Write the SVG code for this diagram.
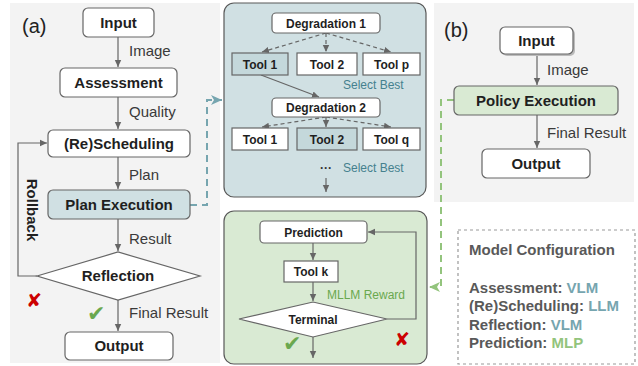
<svg xmlns="http://www.w3.org/2000/svg" width="638" height="366" viewBox="0 0 638 366">
<defs>
<style>
.panel{fill:#f3f3f3}
.node{fill:#fff;stroke:#666;stroke-width:1.2}
.nt{font-family:"Liberation Sans",Arial,sans-serif;font-weight:bold;font-size:15px;fill:#1f1f1f;text-anchor:middle}
.st{font-family:"Liberation Sans",Arial,sans-serif;font-weight:bold;font-size:12px;fill:#1f1f1f;text-anchor:middle}
.lb{font-family:"Liberation Sans",Arial,sans-serif;font-size:15px;fill:#3a3a3a}
.edge{fill:none;stroke:#666;stroke-width:1.2}
.dash{stroke-dasharray:4,3}
.mc{font-family:"Liberation Sans",Arial,sans-serif;font-weight:bold;font-size:15px;fill:#595959}
.ok{font-family:"DejaVu Sans",sans-serif;font-size:22px;fill:#6aa84f}
.no{font-family:"DejaVu Sans",sans-serif;font-size:19px;fill:#cc0000}
</style>
<marker id="ah" markerUnits="userSpaceOnUse" markerWidth="8" markerHeight="8" refX="7" refY="4" orient="auto">
<path d="M0,0.8 L7,4 L0,7.2 z" fill="#666"/>
</marker>
<marker id="ahT" markerUnits="userSpaceOnUse" markerWidth="12" markerHeight="12" refX="11" refY="6" orient="auto">
<path d="M0,1 L11,6 L0,11 L3,6 z" fill="#76a5af"/>
</marker>
<marker id="ahG" markerUnits="userSpaceOnUse" markerWidth="12" markerHeight="12" refX="11" refY="6" orient="auto">
<path d="M0,1 L11,6 L0,11 L3,6 z" fill="#93c47d"/>
</marker>
</defs>

<rect class="panel" x="10" y="3" width="210" height="360"/>
<rect class="panel" x="434" y="3" width="200" height="199"/>
<rect x="224" y="3" width="202" height="194" rx="10" fill="#d0e0e3" stroke="#595959" stroke-width="1.2"/>
<rect x="224" y="211" width="203" height="153" rx="10" fill="#d9ead3" stroke="#595959" stroke-width="1.2"/>

<text x="22" y="33" font-family="Liberation Sans, Arial, sans-serif" font-size="20" fill="#222">(a)</text>
<text x="444" y="37" font-family="Liberation Sans, Arial, sans-serif" font-size="20" fill="#222">(b)</text>

<g id="connectors">
<path class="edge" d="M118,37 V67" marker-end="url(#ah)"/>
<path class="edge" d="M118,97 V129" marker-end="url(#ah)"/>
<path class="edge" d="M118,157 V189" marker-end="url(#ah)"/>
<path class="edge" d="M118,219 V251" marker-end="url(#ah)"/>
<path class="edge" d="M118,300 V331" marker-end="url(#ah)"/>
<path class="edge" d="M37,276 H18 V143 H47" marker-end="url(#ah)"/>
<path d="M190,205 H207 V100 H222" fill="none" stroke="#76a5af" stroke-width="2" stroke-dasharray="7,5" marker-end="url(#ahT)"/>
<path class="edge dash" d="M326,33 L262,52" marker-end="url(#ah)"/>
<path class="edge dash" d="M326,33 V52" marker-end="url(#ah)"/>
<path class="edge dash" d="M326,33 L391,52" marker-end="url(#ah)"/>
<path class="edge" d="M261,75 L319,97" marker-end="url(#ah)"/>
<path class="edge dash" d="M326,117 L262,127" marker-end="url(#ah)"/>
<path class="edge dash" d="M326,117 V127" marker-end="url(#ah)"/>
<path class="edge dash" d="M326,117 L391,127" marker-end="url(#ah)"/>
<path class="edge" d="M326,178 V192" marker-end="url(#ah)"/>
<path class="edge" d="M313,243 V260" marker-end="url(#ah)"/>
<path class="edge" d="M313,282 V301" marker-end="url(#ah)"/>
<path class="edge" d="M387,319 H416 V232 H368" marker-end="url(#ah)"/>
<path class="edge" d="M313,337 V358" marker-end="url(#ah)"/>
<path d="M454,100 H441 V287 H429" fill="none" stroke="#93c47d" stroke-width="2" stroke-dasharray="7,5" marker-end="url(#ahG)"/>
<path class="edge" d="M537,54 V85" marker-end="url(#ah)"/>
<path class="edge" d="M537,115 V148" marker-end="url(#ah)"/>
</g>

<g id="labels">
<text class="lb" x="129" y="56">Image</text>
<text class="lb" x="129" y="117">Quality</text>
<text class="lb" x="129" y="180">Plan</text>
<text class="lb" x="129" y="244">Result</text>
<text class="lb" x="129" y="318">Final Result</text>
<text transform="translate(32,210) rotate(90)" y="5" text-anchor="middle" font-family="Liberation Sans, Arial, sans-serif" font-weight="bold" font-size="15" fill="#1f1f1f">Rollback</text>
<text class="no" x="26" y="307">✘</text>
<text class="ok" x="87" y="321">✔</text>
<text x="343" y="89" font-family="Liberation Sans, Arial, sans-serif" font-size="12" fill="#45818e">Select Best</text>
<text x="343" y="172" font-family="Liberation Sans, Arial, sans-serif" font-size="12" fill="#45818e">Select Best</text>
<text x="326" y="172" text-anchor="middle" font-family="Liberation Sans, Arial, sans-serif" font-weight="bold" font-size="12" fill="#333">···</text>
<text x="327" y="299" font-family="Liberation Sans, Arial, sans-serif" font-size="12" fill="#6aa84f">MLLM Reward</text>
<text class="ok" x="283" y="351">✔</text>
<text class="no" x="394" y="346">✘</text>
<text class="lb" x="547" y="75">Image</text>
<text class="lb" x="547" y="138">Final Result</text>
</g>

<g id="a-input"><rect class="node" x="83" y="8" width="71" height="29" rx="5"/><text class="nt" x="118.5" y="28">Input</text></g>
<g id="a-assessment"><rect class="node" x="60" y="68" width="117" height="29" rx="5"/><text class="nt" x="118.5" y="88">Assessment</text></g>
<g id="a-rescheduling"><rect class="node" x="48" y="130" width="142" height="27" rx="5"/><text class="nt" x="119" y="149">(Re)Scheduling</text></g>
<g id="a-planexec"><rect class="node" x="48" y="190" width="142" height="29" rx="5" style="fill:#d0e0e3"/><text class="nt" x="119" y="210">Plan Execution</text></g>
<g id="a-reflection"><polygon class="node" points="37,276 118,252 200,276 118,300"/><text class="nt" x="118" y="281">Reflection</text></g>
<g id="a-output"><rect class="node" x="65" y="332" width="108" height="28" rx="5"/><text class="nt" x="119" y="351">Output</text></g>

<g id="deg1"><rect class="node" x="272" y="13" width="108" height="20" rx="4"/><text class="st" x="326" y="27.5">Degradation 1</text></g>
<g id="tool1a"><rect class="node" x="232" y="53" width="56" height="22" style="fill:#c4d8db"/><text class="st" x="260" y="68.5">Tool 1</text></g>
<g id="tool2a"><rect class="node" x="297" y="53" width="60" height="22"/><text class="st" x="327" y="68.5">Tool 2</text></g>
<g id="toolp"><rect class="node" x="363" y="53" width="57" height="22"/><text class="st" x="391.5" y="68.5">Tool p</text></g>
<g id="deg2"><rect class="node" x="272" y="98" width="108" height="19" rx="4"/><text class="st" x="326" y="112">Degradation 2</text></g>
<g id="tool1b"><rect class="node" x="232" y="128" width="56" height="22"/><text class="st" x="260" y="143.5">Tool 1</text></g>
<g id="tool2b"><rect class="node" x="297" y="128" width="60" height="22" style="fill:#c4d8db"/><text class="st" x="327" y="143.5">Tool 2</text></g>
<g id="toolq"><rect class="node" x="363" y="128" width="57" height="22"/><text class="st" x="391.5" y="143.5">Tool q</text></g>

<g id="prediction"><rect class="node" x="260" y="221" width="107" height="22" rx="4"/><text class="st" x="313.5" y="236.5">Prediction</text></g>
<g id="toolk"><rect class="node" x="284" y="261" width="54" height="21"/><text class="st" x="311" y="276">Tool k</text></g>
<g id="terminal"><polygon class="node" points="239,319 313,302 387,319 313,337"/><text class="st" x="313" y="324">Terminal</text></g>

<g id="b-input"><rect x="502" y="29" width="73" height="27" rx="5" fill="#bbb"/><rect class="node" x="500" y="27" width="73" height="27" rx="5"/><text class="nt" x="536.5" y="46">Input</text></g>
<g id="b-policy"><rect class="node" x="454" y="86" width="164" height="29" rx="5" style="fill:#d9ead3"/><text class="nt" x="536" y="106">Policy Execution</text></g>
<g id="b-output"><rect class="node" x="482" y="149" width="108" height="29" rx="5"/><text class="nt" x="536" y="169">Output</text></g>

<g id="model-config">
<rect x="458" y="230" width="177" height="134" fill="none" stroke="#999" stroke-width="1.2" stroke-dasharray="3,3"/>
<text class="mc" x="469" y="255">Model Configuration</text>
<text class="mc" x="469" y="293">Assessment: <tspan fill="#76a5af">VLM</tspan></text>
<text class="mc" x="469" y="311">(Re)Scheduling: <tspan fill="#76a5af">LLM</tspan></text>
<text class="mc" x="469" y="330">Reflection: <tspan fill="#76a5af">VLM</tspan></text>
<text class="mc" x="469" y="348">Prediction: <tspan fill="#93c47d">MLP</tspan></text>
</g>
</svg>
